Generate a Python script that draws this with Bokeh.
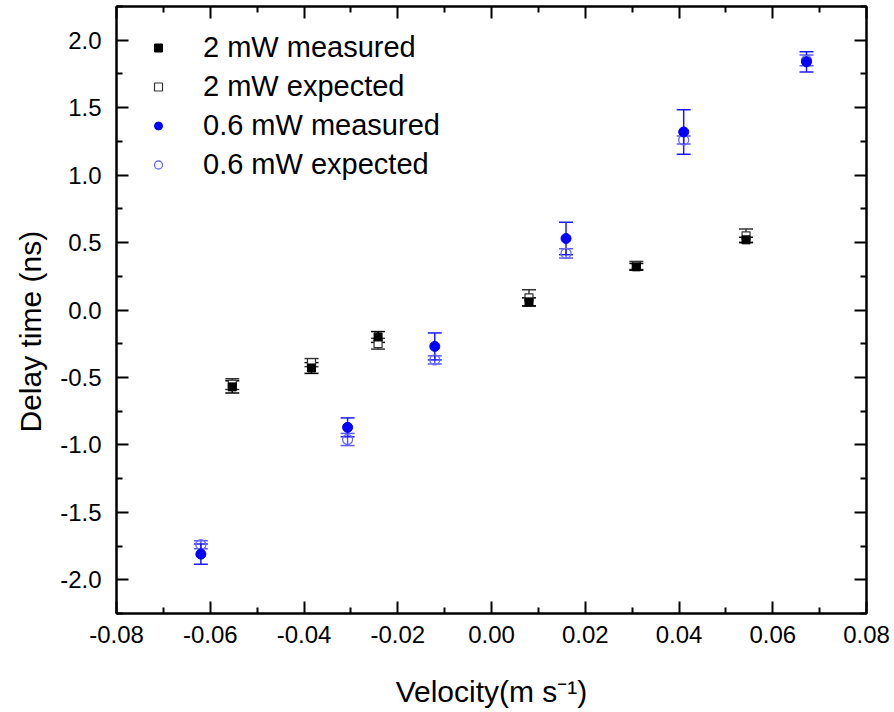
from bokeh.plotting import figure
from bokeh.models import (Range1d, LinearAxis, FixedTicker, PrintfTickFormatter,
                          ColumnDataSource, Whisker, TeeHead, Legend, LegendItem, Title)
from bokeh.embed import file_html
from bokeh.resources import INLINE

# ---------------- data ----------------
v_2mw = [-0.0553, -0.0384, -0.0242, 0.0080, 0.0309, 0.0543]
d_2mw_meas = [-0.57, -0.43, -0.20, 0.06, 0.32, 0.52]
e_2mw_meas = [0.045, 0.04, 0.04, 0.03, 0.025, 0.02]
d_2mw_exp = [-0.55, -0.39, -0.25, 0.09, 0.33, 0.55]
e_2mw_exp = [0.04, 0.03, 0.04, 0.06, 0.03, 0.05]

v_06mw = [-0.0620, -0.0307, -0.0121, 0.0159, 0.0410, 0.0672]
d_06mw_meas = [-1.81, -0.87, -0.27, 0.53, 1.32, 1.84]
e_06mw_meas = [0.075, 0.07, 0.10, 0.12, 0.165, 0.075]
d_06mw_exp = [-1.74, -0.96, -0.37, 0.42, 1.26, 1.85]
e_06mw_exp = [0.03, 0.045, 0.03, 0.035, 0.03, 0.04]

x_ticks = [-0.08, -0.06, -0.04, -0.02, 0.0, 0.02, 0.04, 0.06, 0.08]
x_minor = [-0.07, -0.05, -0.03, -0.01, 0.01, 0.03, 0.05, 0.07]
y_ticks = [-2.0, -1.5, -1.0, -0.5, 0.0, 0.5, 1.0, 1.5, 2.0]
y_minor = [-2.25, -1.75, -1.25, -0.75, -0.25, 0.25, 0.75, 1.25, 1.75, 2.25]

legend_labels = ["2 mW measured", "2 mW expected", "0.6 mW measured", "0.6 mW expected"]
x_label = "Velocity(m s\u207b\u00b9)"
y_label = "Delay time (ns)"

FONT = "Liberation Sans"
X0, X1 = -0.08, 0.08
Y0, Y1 = -2.25, 2.25

W, H = 894, 712
p = figure(width=W, height=H, output_backend="svg", toolbar_location=None,
           x_range=Range1d(X0, X1), y_range=Range1d(Y0, Y1),
           x_axis_location=None, y_axis_location=None,
           min_border_left=116, min_border_right=28, min_border_top=6, min_border_bottom=99)
p.xgrid.visible = False
p.ygrid.visible = False
p.outline_line_color = "black"
p.outline_line_width = 2
p.background_fill_color = "white"
p.border_fill_color = "white"


def style_axis(ax, labels=True):
    ax.axis_line_width = 2
    ax.axis_line_color = "black"
    ax.major_tick_in = 12
    ax.major_tick_out = 0
    ax.minor_tick_in = 6
    ax.minor_tick_out = 0
    ax.major_tick_line_width = 2
    ax.minor_tick_line_width = 2
    ax.major_tick_line_color = "black"
    ax.minor_tick_line_color = "black"
    if labels:
        ax.major_label_text_font = FONT
        ax.major_label_text_font_size = "24px"
        ax.major_label_text_color = "black"
    else:
        ax.major_label_text_font_size = "0px"
        ax.major_label_text_color = None
        ax.major_label_standoff = 0


xt = FixedTicker(ticks=x_ticks, minor_ticks=x_minor)
yt = FixedTicker(ticks=y_ticks, minor_ticks=y_minor)

xb = LinearAxis(ticker=xt, formatter=PrintfTickFormatter(format="%.2f"))
style_axis(xb)
xb.major_label_standoff = 12
xb.axis_label = x_label
xb.axis_label_text_font = FONT
xb.axis_label_text_font_size = "30px"
xb.axis_label_text_font_style = "normal"
xb.axis_label_text_color = "black"
xb.axis_label_standoff = 29

yl = LinearAxis(ticker=yt, formatter=PrintfTickFormatter(format="%.1f"))
style_axis(yl)
yl.major_label_standoff = 15
xtop = LinearAxis(ticker=xt)
style_axis(xtop, labels=False)
yr = LinearAxis(ticker=yt)
style_axis(yr, labels=False)
p.add_layout(xb, "below")
p.add_layout(yl, "left")
p.add_layout(xtop, "above")
p.add_layout(yr, "right")

ytitle = Title(text=y_label, align="left", offset=181, standoff=21,
               text_font=FONT, text_font_size="30px", text_font_style="normal",
               text_color="black")
p.add_layout(ytitle, "left")


def add_err(x, y, e, color, width=1.5):
    src = ColumnDataSource(dict(x=x, lo=[a - b for a, b in zip(y, e)], hi=[a + b for a, b in zip(y, e)]))
    w = Whisker(source=src, base="x", lower="lo", upper="hi", dimension="height",
                line_color=color, line_width=width,
                upper_head=TeeHead(size=14, line_color=color, line_width=width),
                lower_head=TeeHead(size=14, line_color=color, line_width=width))
    p.add_layout(w)


# error bars
add_err(v_2mw, d_2mw_exp, e_2mw_exp, "#333333")
add_err(v_2mw, d_2mw_meas, e_2mw_meas, "black")
add_err(v_06mw, d_06mw_exp, e_06mw_exp, "#5a5aff")
add_err(v_06mw, d_06mw_meas, e_06mw_meas, "#1a1aff")

r_2e = p.scatter(v_2mw, d_2mw_exp, marker="square", size=8, fill_color="white",
                 line_color="#333333", line_width=1.2)
r_2m = p.scatter(v_2mw, d_2mw_meas, marker="square", size=8, fill_color="black",
                 line_color="black", line_width=1)
r_6e = p.scatter(v_06mw, d_06mw_exp, marker="circle", size=10, fill_color="white",
                 fill_alpha=0.0, line_color="#6a6aff", line_width=1.3)
r_6m = p.scatter(v_06mw, d_06mw_meas, marker="circle", size=10, fill_color="#0000ff",
                 line_color="#0000ff", line_width=1)

legend = Legend(items=[LegendItem(label=legend_labels[0], renderers=[r_2m]),
                       LegendItem(label=legend_labels[1], renderers=[r_2e]),
                       LegendItem(label=legend_labels[2], renderers=[r_6m]),
                       LegendItem(label=legend_labels[3], renderers=[r_6e])],
                location=(32, 432))
legend.margin = 0
legend.padding = 0
legend.spacing = 6
legend.glyph_width = 20
legend.glyph_height = 33
legend.label_height = 33
legend.label_standoff = 35
legend.label_text_font = FONT
legend.label_text_font_size = "29px"
legend.label_text_color = "black"
legend.background_fill_alpha = 0
legend.border_line_color = None
p.add_layout(legend, "center")

open("out.html", "w").write(file_html(p, INLINE))
